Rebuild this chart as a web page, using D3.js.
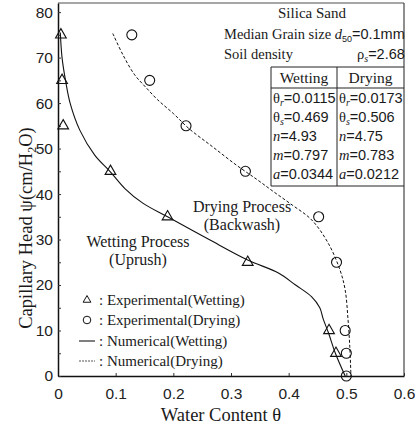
<!DOCTYPE html>
<html>
<head>
<meta charset="utf-8">
<script src="https://cdn.jsdelivr.net/npm/d3@7"></script>
<style>
  body { margin: 0; background: #fff; }
  .tick text { font-family: "Liberation Sans", Arial, sans-serif; font-size: 15.5px; fill: #222; }
  .serif { font-family: "Liberation Serif", "Times New Roman", serif; fill: #1a1a1a; }
  .sans { font-family: "Liberation Sans", Arial, sans-serif; }
</style>
</head>
<body>
<script>
// experimental points
var wetExpTheta = [0.005, 0.007, 0.009, 0.091, 0.19, 0.329, 0.47, 0.482];
var wetExpHead  = [75, 65, 55, 45, 35, 25, 10, 5];
var dryExpTheta = [0.128, 0.159, 0.222, 0.325, 0.452, 0.483, 0.498, 0.5, 0.5];
var dryExpHead  = [75, 65, 55, 45, 35, 25, 10, 5, 0];

// numerical curves (traced)
var wetNumTheta = [0.004, 0.007, 0.013, 0.021, 0.038, 0.064, 0.09, 0.116, 0.147, 0.19, 0.262, 0.329, 0.383, 0.412, 0.44, 0.454, 0.46, 0.469, 0.481, 0.498];
var wetNumHead  = [75.5, 70, 65, 60, 54, 48.5, 45, 41.2, 38, 35, 30, 25.5, 22.6, 20, 17.4, 15, 12.5, 9.5, 5, 0];
var dryNumTheta = [0.095, 0.113, 0.133, 0.152, 0.173, 0.2, 0.227, 0.268, 0.31, 0.345, 0.374, 0.406, 0.44, 0.469, 0.489, 0.498, 0.503, 0.506, 0.508];
var dryNumHead  = [75.3, 70.5, 66.2, 63.5, 60.7, 57.7, 54.4, 50.4, 46.3, 43.2, 40.5, 37.6, 34.3, 29.1, 23.3, 18.9, 12.3, 6.4, 0];

var xTicks = [0, 0.1, 0.2, 0.3, 0.4, 0.5, 0.6];
var yTicks = [0, 5, 10, 15, 20, 25, 30, 35, 40, 45, 50, 55, 60, 65, 70, 75, 80];

// parameter table
var paramNames = ["θr", "θs", "n", "m", "a"];
var wetParams = ["0.0115", "0.469", "4.93", "0.797", "0.0344"];
var dryParams = ["0.0173", "0.506", "4.75", "0.783", "0.0212"];

var legendLabels = [": Experimental(Wetting)", ": Experimental(Drying)", ": Numerical(Wetting)", ": Numerical(Drying)"];

var width = 416,
    height = 429;

var svg = d3.select("body").append("svg")
    .attr("width", width)
    .attr("height", height);

var x = d3.scaleLinear().domain([0, 0.6]).range([58, 404]);
var y = d3.scaleLinear().domain([0, 82]).range([376, 3]);

// frame: top and right in grey
svg.append("line")
    .attr("x1", x(0)).attr("x2", x(0.6))
    .attr("y1", y(82)).attr("y2", y(82))
    .attr("stroke", "#888").attr("stroke-width", 1.5);
svg.append("line")
    .attr("x1", x(0.6)).attr("x2", x(0.6))
    .attr("y1", y(82)).attr("y2", y(0))
    .attr("stroke", "#444").attr("stroke-width", 1.2);

var xAxis = d3.axisBottom(x)
    .tickValues(xTicks)
    .tickSizeInner(-3)
    .tickSizeOuter(0)
    .tickPadding(12)
    .tickFormat(function(d) { return d ? d3.format(".1f")(d) : "0"; });

var yAxis = d3.axisLeft(y)
    .tickValues(yTicks)
    .tickSizeInner(-3)
    .tickSizeOuter(0)
    .tickPadding(5)
    .tickFormat(function(d) { return d % 10 === 0 ? d : ""; });

var gx = svg.append("g")
    .attr("transform", "translate(0," + y(0) + ")")
    .call(xAxis);
var gy = svg.append("g")
    .attr("transform", "translate(" + x(0) + ",0)")
    .call(yAxis);
gx.select(".domain").attr("stroke-width", 1.5).attr("stroke", "#111");
gy.select(".domain").attr("stroke-width", 1.5).attr("stroke", "#111");
gx.selectAll(".tick line").attr("stroke", "#333");
gy.selectAll(".tick line").attr("stroke", "#333");

// axis titles
svg.append("text")
    .attr("class", "serif")
    .attr("x", 221).attr("y", 421)
    .attr("text-anchor", "middle")
    .style("font-size", "18.5px")
    .text("Water Content θ");

var yt = svg.append("text")
    .attr("class", "serif")
    .attr("transform", "translate(32,228) rotate(-90)")
    .attr("text-anchor", "middle")
    .style("font-size", "18.5px");
yt.append("tspan").text("Capillary Head ψ(cm/H");
yt.append("tspan").attr("dy", 4).style("font-size", "12px").text("2");
yt.append("tspan").attr("dy", -4).text("O)");

// curves
var line = d3.line()
    .x(function(d) { return x(d[0]); })
    .y(function(d) { return y(d[1]); })
    .curve(d3.curveCatmullRom);

svg.append("path")
    .datum(d3.zip(wetNumTheta, wetNumHead))
    .attr("d", line)
    .attr("fill", "none")
    .attr("stroke", "#111")
    .attr("stroke-width", 1.1);

svg.append("path")
    .datum(d3.zip(dryNumTheta, dryNumHead))
    .attr("d", line)
    .attr("fill", "none")
    .attr("stroke", "#111")
    .attr("stroke-width", 1)
    .attr("stroke-dasharray", "3,2");

// markers
var tri = d3.symbol().type(d3.symbolTriangle).size(50);

svg.selectAll(".tri")
    .data(d3.zip(wetExpTheta, wetExpHead))
    .enter().append("path")
    .attr("class", "tri")
    .attr("d", tri)
    .attr("transform", function(d) { return "translate(" + x(d[0]) + "," + y(d[1]) + ")"; })
    .attr("fill", "none")
    .attr("stroke", "#111")
    .attr("stroke-width", 1.1);

svg.selectAll(".circ")
    .data(d3.zip(dryExpTheta, dryExpHead))
    .enter().append("circle")
    .attr("class", "circ")
    .attr("cx", function(d) { return x(d[0]); })
    .attr("cy", function(d) { return y(d[1]); })
    .attr("r", 5)
    .attr("fill", "none")
    .attr("stroke", "#111")
    .attr("stroke-width", 1.1);

// process annotations
function centred(txt, cx, cy) {
    svg.append("text")
        .attr("class", "serif")
        .attr("x", cx).attr("y", cy + 5)
        .attr("text-anchor", "middle")
        .style("font-size", "16px")
        .text(txt);
}
centred("Wetting Process", 138, 242);
centred("(Uprush)", 138, 260);
centred("Drying Process", 242, 207);
centred("(Backwash)", 242, 225);

// legend
var legY = [300, 320, 341, 361];
var leg = svg.append("g");
leg.append("path")
    .attr("d", d3.symbol().type(d3.symbolTriangle).size(26))
    .attr("transform", "translate(87," + legY[0] + ")")
    .attr("fill", "none").attr("stroke", "#111");
leg.append("circle")
    .attr("cx", 87).attr("cy", legY[1]).attr("r", 3.8)
    .attr("fill", "none").attr("stroke", "#111");
leg.append("line")
    .attr("x1", 79).attr("x2", 95).attr("y1", legY[2]).attr("y2", legY[2])
    .attr("stroke", "#555").attr("stroke-width", 1.5);
leg.append("line")
    .attr("x1", 79).attr("x2", 95).attr("y1", legY[3]).attr("y2", legY[3])
    .attr("stroke", "#555").attr("stroke-width", 1).attr("stroke-dasharray", "2,1");
leg.selectAll("text.lab")
    .data(legendLabels)
    .enter().append("text")
    .attr("class", "serif lab")
    .attr("x", 99)
    .attr("y", function(d, i) { return legY[i] + 5; })
    .style("font-size", "15px")
    .text(function(d) { return d; });

// parameter table
var tb = svg.append("g").style("font-size", "14.5px");
var tl = 271, tm = 337, tr = 404;

tb.append("text").attr("class", "serif")
    .attr("x", 312).attr("y", 13 + 5).attr("text-anchor", "middle")
    .style("font-size", "15px")
    .text("Silica Sand");

var med = tb.append("text").attr("class", "serif").attr("x", 224).attr("y", 34 + 5);
med.append("tspan").text("Median Grain size ");
med.append("tspan").style("font-style", "italic").text("d");
med.append("tspan").attr("class", "sans").attr("dy", 3).style("font-size", "9px").text("50");
med.append("tspan").attr("class", "sans").attr("dy", -3).text("=0.1mm");

tb.append("text").attr("class", "serif").attr("x", 224).attr("y", 54 + 5).text("Soil density");
var rho = tb.append("text").attr("class", "serif").attr("x", 357).attr("y", 54 + 5);
rho.append("tspan").text("ρ");
rho.append("tspan").attr("dy", 3).style("font-size", "10px").style("font-style", "italic").text("s");
rho.append("tspan").attr("class", "sans").attr("dy", -3).text("=2.68");

var rowY = d3.scaleLinear().domain([0, 4]).range([98, 174]);

tb.append("line").attr("x1", tl).attr("x2", tr).attr("y1", 67).attr("y2", 67).attr("stroke", "#222");
tb.append("line").attr("x1", tl).attr("x2", tr).attr("y1", 88).attr("y2", 88).attr("stroke", "#222");
tb.append("line").attr("x1", tl).attr("x2", tr).attr("y1", 186).attr("y2", 186).attr("stroke", "#222");
tb.append("line").attr("x1", tl).attr("x2", tl).attr("y1", 67).attr("y2", 186).attr("stroke", "#222");
tb.append("line").attr("x1", tm).attr("x2", tm).attr("y1", 67).attr("y2", 186).attr("stroke", "#222");

tb.append("text").attr("class", "serif").attr("x", (tl + tm) / 2).attr("y", 78 + 5)
    .attr("text-anchor", "middle").style("font-size", "15.5px").text("Wetting");
tb.append("text").attr("class", "serif").attr("x", (tm + tr) / 2).attr("y", 78 + 5)
    .attr("text-anchor", "middle").style("font-size", "15.5px").text("Drying");

function paramCell(x0, name, val, i) {
    var t = tb.append("text").attr("class", "serif").attr("x", x0).attr("y", rowY(i) + 5);
    if (name.charAt(0) === "θ") {
        t.append("tspan").text("θ");
        t.append("tspan").attr("dy", 3).style("font-size", "10px").style("font-style", "italic").text(name.charAt(1));
        t.append("tspan").attr("class", "sans").attr("dy", -3).text("=" + val);
    } else {
        t.append("tspan").style("font-style", "italic").text(name);
        t.append("tspan").attr("class", "sans").text("=" + val);
    }
}
paramNames.forEach(function(p, i) {
    paramCell(tl + 2, p, wetParams[i], i);
    paramCell(tm + 2, p, dryParams[i], i);
});
</script>
</body>
</html>
